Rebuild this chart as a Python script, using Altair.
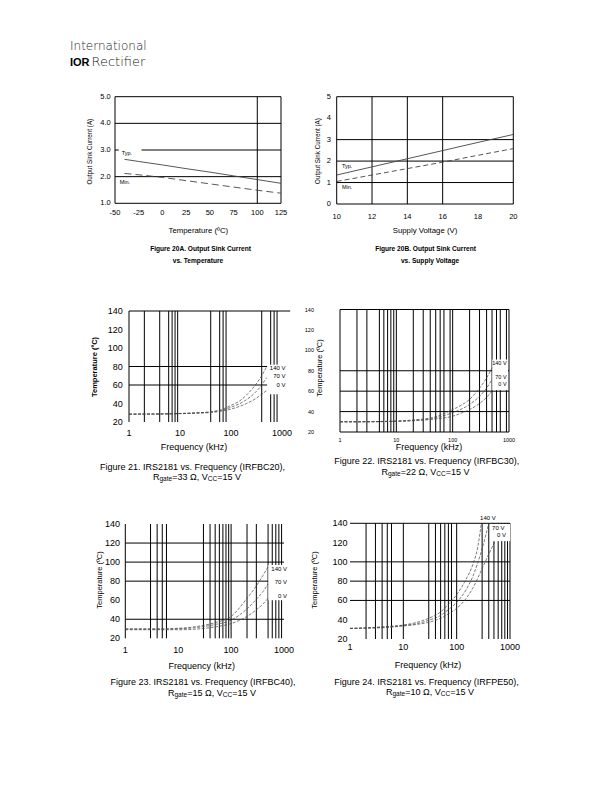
import altair as alt
import pandas as pd

# ---------------- values ----------------
# Figure 20A: output sink current vs temperature
temp_20a = [-40, -25, 0, 25, 50, 75, 100, 125]
typ_20a = [2.65, 2.57, 2.44, 2.30, 2.17, 2.03, 1.89, 1.75]
min_20a = [2.12, 2.07, 1.97, 1.85, 1.73, 1.61, 1.49, 1.38]
ticks_20a_x = [-50, -25, 0, 25, 50, 75, 100, 125]
ticks_20a_y = [1, 2, 3, 4, 5]
grid_20a_x = [100]
grid_20a_y = [2, 3, 4]

# Figure 20B: output sink current vs supply voltage
vcc_20b = [10, 12, 14, 16, 18, 20]
typ_20b = [1.35, 1.73, 2.11, 2.49, 2.87, 3.24]
min_20b = [1.05, 1.35, 1.65, 1.95, 2.27, 2.58]
ticks_20b_x = [10, 12, 14, 16, 18, 20]
ticks_20b_y = [0, 1, 2, 3, 4, 5]
grid_20b_x = [12, 14, 16]
grid_20b_y = [1, 2, 3]

# Figure 21: IRS2181 vs frequency (IRFBC20)
freq_21 = [1, 2, 5, 10, 20, 40, 70, 100, 150, 200, 300, 400, 500]
t21_140v = [28.5, 28.6, 28.8, 29.2, 29.8, 31.0, 34.0, 38.0, 43.0, 49.0, 60.0, 70.0, 80.0]
t21_70v = [28.5, 28.6, 28.8, 29.2, 29.8, 30.8, 33.0, 36.0, 40.0, 44.0, 52.0, 60.0, 68.0]
t21_0v = [28.5, 28.5, 28.7, 29.0, 29.5, 30.3, 32.0, 34.0, 37.0, 40.0, 45.0, 50.0, 54.0]
grid_21_x = [2, 4, 6, 7, 8, 9, 40, 60, 70, 80, 400, 600, 700, 800]
grid_21_y = [60, 80]

# Figure 22: IRS2181 vs frequency (IRFBC30)
freq_22 = [1, 2, 5, 10, 20, 50, 100, 150, 200, 300, 400, 500]
t22_140v = [30, 30, 30.3, 30.8, 31.8, 35, 42, 47, 52, 63, 73, 83]
t22_70v = [30, 30, 30.2, 30.6, 31.3, 33.8, 39, 43, 47, 55, 63, 71.5]
t22_0v = [30, 30, 30.1, 30.4, 31, 32.8, 35.5, 39, 42, 48, 54, 60]
grid_22_x = [2, 3, 5, 6, 7, 8, 9, 10, 20, 30, 40, 50, 60, 70, 90, 100,
             200, 300, 400, 500, 600, 700, 900]
grid_22_y = [40, 60, 80]

# Figure 23: IRS2181 vs frequency (IRFBC40)
freq_23 = [1, 2, 5, 10, 20, 50, 100, 200, 300, 400, 500]
t23_140v = [30, 30, 30, 30.5, 32, 36.5, 43, 62, 75, 86, 95]
t23_70v = [29.5, 29.5, 29.5, 30, 31, 34.5, 39, 51, 61, 69, 77]
t23_0v = [29, 29, 29, 29, 29.5, 32, 35.5, 43, 50, 56, 62]
grid_23_x = [3, 4, 5, 6, 30, 40, 50, 60, 70, 80, 90, 100, 200, 300, 500, 600, 700, 800, 900]
grid_23_y = [40, 80, 100, 120]

# Figure 24: IRS2181 vs frequency (IRFPE50)
freq_24_140v = [1, 2, 5, 10, 20, 30, 50, 70, 100, 150, 200, 250, 290]
t24_140v = [31, 31.5, 33, 34.5, 38, 41.5, 48, 56, 66, 82, 97, 116, 140]
freq_24_70v = [1, 2, 5, 10, 20, 30, 50, 70, 100, 150, 200, 300, 400]
t24_70v = [31, 31.5, 32.5, 34, 36.5, 39.4, 44.5, 50.5, 58, 71, 84.6, 113.7, 140]
freq_24_0v = [1, 2, 5, 10, 20, 30, 50, 70, 100, 150, 200, 300, 400, 520]
t24_0v = [31, 31.2, 32, 33.5, 35.5, 37.3, 41.5, 46, 51.8, 62, 72.6, 93, 108, 121]
grid_24_x = [2, 3, 4, 5, 6, 10, 30, 40, 50, 60, 70, 80, 100, 300, 400, 500,
             600, 700, 800, 900, 1000]
grid_24_y = [60, 80, 100, 140]

ticks_freq = [1, 10, 100, 1000]
ticks_temp = [20, 40, 60, 80, 100, 120, 140]
series_names = ["140 V", "70 V", "0 V"]
series_20 = ["Typ.", "Min."]

# text content
logo = ["International", "IOR", "Rectifier"]
cap_20a = ["Figure 20A. Output Sink Current", "vs. Temperature"]
cap_20b = ["Figure 20B. Output Sink Current", "vs. Supply Voltage"]
cap_21 = "Figure 21. IRS2181 vs. Frequency (IRFBC20),"
cap_22 = "Figure 22. IRS2181 vs. Frequency (IRFBC30),"
cap_23 = "Figure 23. IRS2181 vs. Frequency (IRFBC40),"
cap_24 = "Figure 24. IRS2181 vs. Frequency (IRFPE50),"
rgate = {"21": "33", "22": "22", "23": "15", "24": "10"}

# ---------------- layout / style ----------------
W, H = 595, 775
FONT = "Liberation Sans"
LINE = "#444444"
DASH = [3, 1.5]


def px(v):
    """page pixel -> chart pixel (the page has an 8px margin)"""
    return v - 8


AW = {" ": 278, "=": 584, ",": 278, ".": 278, "Ω": 768, "R": 722, "V": 667, "C": 722,
      "g": 556, "a": 556, "t": 278, "e": 556}


def tw(s, size):
    return sum(AW.get(ch, 556) for ch in s) * size / 1000.0


def text_layer(s, x, y, size, font=FONT, weight="normal", align="center", baseline="middle", angle=0,
               color="black"):
    mk = dict(align=align, baseline=baseline, fontSize=size, font=font, fontWeight=weight, color=color)
    if angle:
        mk["angle"] = angle
    return alt.Chart(pd.DataFrame({"t": [s]})).mark_text(**mk).encode(
        x=alt.value(px(x)), y=alt.value(px(y)), text="t:N")


def sub_line(cx, y, parts, size=9, subsize=6.5):
    widths = [tw(s, subsize if sub else size) for s, sub in parts]
    x = cx - sum(widths) / 2.0
    out = []
    for (s, sub), w in zip(parts, widths):
        out.append(text_layer(s, x, y + (2.2 if sub else 0), subsize if sub else size, align="left"))
        x += w
    return out


def fmt_tick(v, kind):
    if kind == "1f":
        return "%.1f" % v
    return "%d" % v


def panel(c):
    xkw = dict(type=c["xtype"], domain=c["xdom"], range=[px(c["xr"][0]), px(c["xr"][1])], nice=False)
    if c["xtype"] == "linear":
        xkw["zero"] = False
    xsc = alt.Scale(**xkw)
    ysc = alt.Scale(domain=c["ydom"], range=[px(c["yr"][0]), px(c["yr"][1])], nice=False, zero=False)
    x0, x1 = c["xdom"]
    y0, y1 = c["ydom"]

    layers = []
    # grid and frame lines
    vdf = pd.DataFrame({"gx": c["vlines"], "ya": y0, "yb": y1})
    layers.append(alt.Chart(vdf).mark_rule(color="black", strokeWidth=1).encode(
        x=alt.X("gx:Q", scale=xsc, axis=None), y=alt.Y("ya:Q", scale=ysc, axis=None), y2="yb:Q"))
    hl = [(v, x0, x1) for v in c["hlines"]] + c.get("hextra", [])
    hdf = pd.DataFrame(hl, columns=["gy", "xa", "xb"])
    layers.append(alt.Chart(hdf).mark_rule(color="black", strokeWidth=1).encode(
        y=alt.Y("gy:Q", scale=ysc, axis=None), x=alt.X("xa:Q", scale=xsc, axis=None), x2="xb:Q"))
    # white boxes behind the curve labels
    if c.get("boxes"):
        bdf = pd.DataFrame(c["boxes"], columns=["bx0", "bx1", "by0", "by1"])
        layers.append(alt.Chart(bdf).mark_rect(color="white").encode(
            x=alt.X("bx0:Q", scale=xsc, axis=None), x2="bx1:Q",
            y=alt.Y("by0:Q", scale=ysc, axis=None), y2="by1:Q"))
    # curves
    for xs, ys, dash in c["curves"]:
        df = pd.DataFrame({"cx": xs, "cy": ys})
        mk = dict(color=LINE, strokeWidth=c.get("lw", 0.9), interpolate="monotone")
        if dash:
            mk["strokeDash"] = dash
        layers.append(alt.Chart(df).mark_line(**mk).encode(
            x=alt.X("cx:Q", scale=xsc, axis=None),
            y=alt.Y("cy:Q", scale=ysc, axis=None)))
    # curve labels
    ldf = pd.DataFrame(c["labels"], columns=["lx", "ly", "lt"])
    layers.append(alt.Chart(ldf).mark_text(
        align=c["lalign"], baseline="middle", fontSize=c["lfs"], font=FONT, color="black").encode(
        x=alt.X("lx:Q", scale=xsc, axis=None), y=alt.Y("ly:Q", scale=ysc, axis=None), text="lt:N"))
    # tick labels (placed through the panel scales)
    xt = pd.DataFrame({"v": c["xticks"], "s": [fmt_tick(v, "d") for v in c["xticks"]]})
    layers.append(alt.Chart(xt).mark_text(
        align="center", baseline="middle", fontSize=c["tick_fs"], font=FONT, color="black").encode(
        x=alt.X("v:Q", scale=xsc, axis=None), y=alt.value(px(c["xlab_y"])), text="s:N"))
    yt = pd.DataFrame({"v": c["yticks"], "s": [fmt_tick(v, c["yfmt"]) for v in c["yticks"]]})
    layers.append(alt.Chart(yt).mark_text(
        align="right", baseline="middle", fontSize=c["tick_fs"], font=FONT, color="black").encode(
        y=alt.Y("v:Q", scale=ysc, axis=None), x=alt.value(px(c["ylab_x"])), text="s:N"))
    # axis titles
    layers.append(text_layer(c["xtitle"], c["xtc"][0], c["xtc"][1], c["xtfs"]))
    layers.append(text_layer(c["ytitle"], c["ytc"][0], c["ytc"][1], c["ytfs"], weight=c["ytfw"], angle=270))
    return alt.layer(*layers)


FREQ_T = "Frequency (kHz)"
TEMP_T = "Temperature (ºC)"
SINK_T = "Output Sink Current (A)"

panels = [
    dict(  # 20A
        xtype="linear", xdom=[-50, 125], xr=(115, 281), ydom=[1, 5], yr=(203.3, 96.7),
        xticks=ticks_20a_x, yticks=ticks_20a_y, yfmt="1f",
        tick_fs=7.5, xlab_y=213.3, ylab_x=110.7,
        xtitle="Temperature (ºC)", xtfs=7.8, xtc=(198.3, 230.7),
        ytitle=SINK_T, ytfs=6.3, ytfw="normal", ytc=(90, 151.7),
        vlines=[-50] + grid_20a_x + [125], hlines=[1] + grid_20a_y + [5],
        boxes=[(-46, -22, 2.78, 3.05)],
        curves=[(temp_20a, typ_20a, None), (temp_20a, min_20a, [7, 4])],
        labels=[(-43, 2.88, series_20[0]), (-45, 1.79, series_20[1])], lalign="left", lfs=5.5,
    ),
    dict(  # 20B
        xtype="linear", xdom=[10, 20], xr=(336.7, 513.3), ydom=[0, 5], yr=(204, 96.7),
        xticks=ticks_20b_x, yticks=ticks_20b_y, yfmt="d",
        tick_fs=7.5, xlab_y=216.7, ylab_x=331,
        xtitle="Supply Voltage (V)", xtfs=7.8, xtc=(425, 230.7),
        ytitle=SINK_T, ytfs=6.3, ytfw="normal", ytc=(318.3, 151),
        vlines=[10] + grid_20b_x + [20], hlines=[0] + grid_20b_y + [5],
        curves=[(vcc_20b, typ_20b, None), (vcc_20b, min_20b, [5, 3])],
        labels=[(10.3, 1.77, series_20[0]), (10.3, 0.81, series_20[1])], lalign="left", lfs=5.5,
    ),
    dict(  # 21
        xtype="log", xdom=[1, 1000], xr=(129, 282), ydom=[20, 140], yr=(422, 311),
        xticks=ticks_freq, yticks=ticks_temp, yfmt="d",
        tick_fs=9, xlab_y=433.3, ylab_x=122.7,
        xtitle=FREQ_T, xtfs=9, xtc=(194, 446.7),
        ytitle=TEMP_T, ytfs=7.5, ytfw="bold", ytc=(95, 367),
        vlines=[1] + grid_21_x, hlines=grid_21_y, hextra=[(140, 1, 1450)],
        boxes=[(510, 1250, 50, 82)],
        curves=[(freq_21, t21_140v, DASH), (freq_21, t21_70v, DASH), (freq_21, t21_0v, DASH)],
        labels=[(1170, 78.7, series_names[0]), (1170, 69.7, series_names[1]), (1170, 60, series_names[2])],
        lalign="right", lfs=6, lw=0.7,
    ),
    dict(  # 22
        xtype="log", xdom=[1, 1000], xr=(340, 509), ydom=[20, 140], yr=(432, 309.5),
        xticks=ticks_freq, yticks=ticks_temp, yfmt="d",
        tick_fs=5.5, xlab_y=440, ylab_x=314,
        xtitle=FREQ_T, xtfs=9, xtc=(429, 447),
        ytitle=TEMP_T, ytfs=7.5, ytfw="normal", ytc=(320, 368),
        vlines=[1] + grid_22_x + [1000], hlines=[20] + grid_22_y + [140],
        boxes=[(505, 960, 61, 91)],
        curves=[(freq_22, t22_140v, DASH), (freq_22, t22_70v, DASH), (freq_22, t22_0v, DASH)],
        labels=[(906, 87.4, series_names[0]), (906, 73.6, series_names[1]), (906, 67.2, series_names[2])],
        lalign="right", lfs=5.5, lw=0.7,
    ),
    dict(  # 23
        xtype="log", xdom=[1, 1000], xr=(125.3, 284), ydom=[20, 140], yr=(638.3, 524),
        xticks=ticks_freq, yticks=ticks_temp, yfmt="d",
        tick_fs=9, xlab_y=650, ylab_x=120,
        xtitle=FREQ_T, xtfs=9, xtc=(201.7, 665.7),
        ytitle=TEMP_T, ytfs=7.5, ytfw="normal", ytc=(100, 580),
        vlines=[1] + grid_23_x, hlines=grid_23_y,
        boxes=[(505, 1200, 60, 97)],
        curves=[(freq_23, t23_140v, DASH), (freq_23, t23_70v, DASH), (freq_23, t23_0v, DASH)],
        labels=[(1140, 92.8, series_names[0]), (1140, 79.6, series_names[1]), (1140, 64.4, series_names[2])],
        lalign="right", lfs=6, lw=0.7,
    ),
    dict(  # 24
        xtype="log", xdom=[1, 1000], xr=(350, 510), ydom=[20, 140], yr=(639, 523.3),
        xticks=ticks_freq, yticks=ticks_temp, yfmt="d",
        tick_fs=9, xlab_y=646.7, ylab_x=347.5,
        xtitle=FREQ_T, xtfs=9, xtc=(428, 665),
        ytitle=TEMP_T, ytfs=7.5, ytfw="normal", ytc=(315, 580),
        vlines=grid_24_x, hlines=grid_24_y,
        boxes=[(480, 1010, 121.5, 139.3)],
        curves=[(freq_24_140v, t24_140v, DASH), (freq_24_70v, t24_70v, DASH), (freq_24_0v, t24_0v, DASH)],
        labels=[(275, 145.5, series_names[0]), (462, 135, series_names[1]), (573, 128, series_names[2])],
        lalign="left", lfs=6, lw=0.7,
    ),
]

layers = [panel(c) for c in panels]

# logo
layers.append(text_layer(logo[0], 70, 49.5, 12, font="DejaVu Sans", weight=300, align="left",
                         baseline="alphabetic", color="#222222"))
layers.append(text_layer(logo[1], 70, 66, 11, font=FONT, weight="bold", align="left", baseline="alphabetic"))
layers.append(text_layer(logo[2], 91.5, 66, 13, font="DejaVu Sans", weight=300, align="left",
                         baseline="alphabetic", color="#222222"))

# captions
layers.append(text_layer(cap_20a[0], 200.5, 249, 6.6, weight="bold"))
layers.append(text_layer(cap_20a[1], 198, 260.5, 6.6, weight="bold"))
layers.append(text_layer(cap_20b[0], 425.5, 249, 6.6, weight="bold"))
layers.append(text_layer(cap_20b[1], 430, 260.5, 6.6, weight="bold"))


def second_line(key):
    return [("R", False), ("gate", True), ("=" + rgate[key] + " Ω, V", False), ("CC", True), ("=15 V", False)]


for key, cap, c1, c2 in [("21", cap_21, (192.5, 466.5), (197, 477)),
                         ("22", cap_22, (426.7, 461), (425.5, 472)),
                         ("23", cap_23, (203, 681.5), (212, 692.5)),
                         ("24", cap_24, (426.5, 682), (430, 692))]:
    layers.append(text_layer(cap, c1[0], c1[1], 9))
    layers.extend(sub_line(c2[0], c2[1], second_line(key)))

chart = alt.layer(*layers).resolve_scale(x="independent", y="independent").properties(
    width=W, height=H, autosize=alt.AutoSizeParams(type="none"), padding=0
).configure_view(stroke="transparent")

chart.save("out.html", embed_options={"renderer": "svg", "actions": False})
